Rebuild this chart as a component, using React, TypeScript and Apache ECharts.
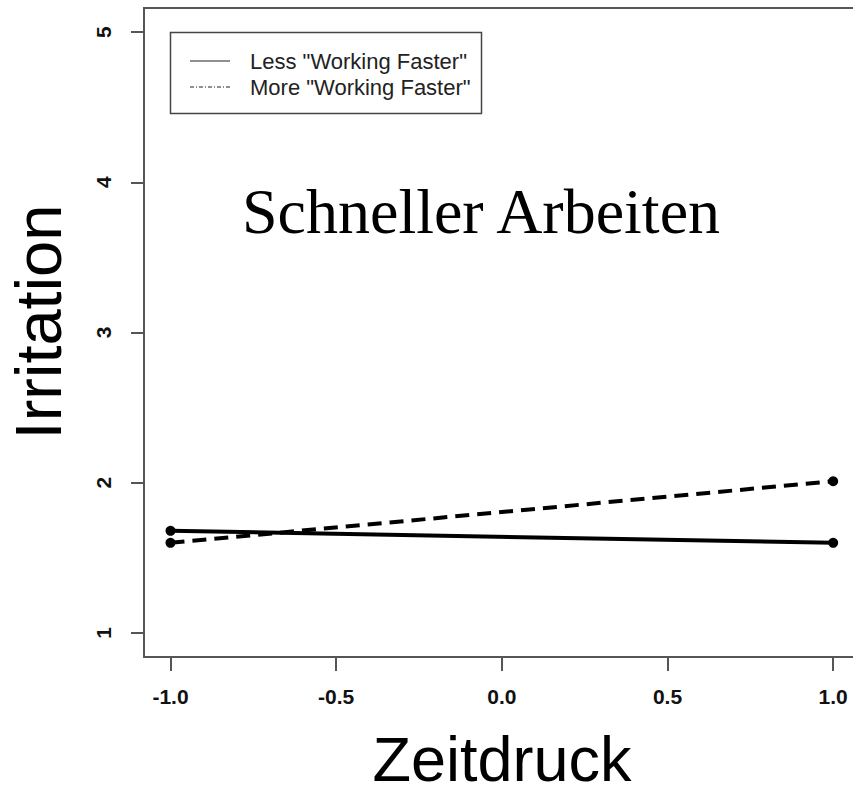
import React, { useEffect, useRef } from "react";
import * as echarts from "echarts";

const xValues = [-1, 1];
const lessValues = [1.68, 1.6];
const moreValues = [1.6, 2.01];
const xTicks = [-1, -0.5, 0, 0.5, 1];
const yTicks = [1, 2, 3, 4, 5];
const seriesNames = ['Less "Working Faster"', 'More "Working Faster"'];

export default function App() {
  const ref = useRef<HTMLDivElement>(null);
  useEffect(() => {
    if (!ref.current) return;
    const chart = echarts.init(ref.current, null, { renderer: "svg" });
    const axisColor = "#555";
    const toPairs = (vals: number[]) => xValues.map((x, i) => [x, vals[i]]);
    chart.setOption({
      animation: false,
      backgroundColor: "#fff",
      grid: {
        left: 144,
        top: 8,
        width: 709,
        height: 649,
        show: false,
      },
      xAxis: {
        type: "value",
        min: -1.08,
        max: 1.0598,
        axisLine: { show: true, onZero: false, lineStyle: { color: axisColor, width: 2 } },
        axisTick: {
          show: true,
          length: 14,
          customValues: xTicks,
          lineStyle: { color: axisColor, width: 2 },
        },
        axisLabel: {
          customValues: xTicks,
          formatter: (v: number) => v.toFixed(1),
          fontFamily: "Liberation Sans, Arial, sans-serif",
          fontWeight: "bold",
          fontSize: 21,
          color: "#111",
          margin: 29,
        },
        splitLine: { show: false },
      },
      yAxis: {
        type: "value",
        min: 0.84,
        max: 5.16,
        axisLine: { show: true, onZero: false, lineStyle: { color: axisColor, width: 2 } },
        axisTick: {
          show: true,
          length: 13,
          customValues: yTicks,
          lineStyle: { color: axisColor, width: 2 },
        },
        axisLabel: {
          customValues: yTicks,
          rotate: 90,
          fontFamily: "Liberation Sans, Arial, sans-serif",
          fontWeight: "bold",
          fontSize: 21,
          color: "#111",
          margin: 30,
        },
        splitLine: { show: false },
      },
      series: [
        {
          name: seriesNames[0],
          type: "line",
          data: toPairs(lessValues),
          symbol: "circle",
          symbolSize: 10,
          itemStyle: { color: "#000" },
          lineStyle: { color: "#000", width: 4, type: "solid" },
        },
        {
          name: seriesNames[1],
          type: "line",
          data: toPairs(moreValues),
          symbol: "circle",
          symbolSize: 10,
          itemStyle: { color: "#000" },
          lineStyle: { color: "#000", width: 4, type: [14, 8] },
        },
      ],
      graphic: [
        {
          type: "line",
          shape: { x1: 143, y1: 8, x2: 853, y2: 8 },
          style: { stroke: axisColor, lineWidth: 2 },
        },
        {
          type: "rect",
          shape: { x: 170.5, y: 32.5, width: 311, height: 81 },
          style: { fill: "#fff", stroke: "#444", lineWidth: 1.5 },
          z: 10,
        },
        {
          type: "line",
          shape: { x1: 190, y1: 61, x2: 230, y2: 61 },
          style: { stroke: "#222", lineWidth: 1.2 },
          z: 11,
        },
        {
          type: "line",
          shape: { x1: 190, y1: 87, x2: 230, y2: 87 },
          style: { stroke: "#222", lineWidth: 1.2, lineDash: [4, 2, 1, 2] },
          z: 11,
        },
        {
          type: "text",
          x: 250,
          y: 61,
          z: 11,
          style: {
            text: seriesNames[0],
            font: "22px 'Liberation Sans', Arial, sans-serif",
            fill: "#222",
            verticalAlign: "middle",
          },
        },
        {
          type: "text",
          x: 250,
          y: 87,
          z: 11,
          style: {
            text: seriesNames[1],
            font: "22px 'Liberation Sans', Arial, sans-serif",
            fill: "#222",
            verticalAlign: "middle",
          },
        },
        {
          type: "text",
          x: 481,
          y: 211,
          style: {
            text: "Schneller Arbeiten",
            font: "64px 'Liberation Serif', 'Times New Roman', serif",
            fill: "#000",
            align: "center",
            verticalAlign: "middle",
          },
        },
        {
          type: "text",
          x: 38,
          y: 322,
          rotation: Math.PI / 2,
          style: {
            text: "Irritation",
            font: "65px 'Liberation Sans', Arial, sans-serif",
            fill: "#000",
            align: "center",
            verticalAlign: "middle",
          },
        },
        {
          type: "text",
          x: 502,
          y: 759,
          style: {
            text: "Zeitdruck",
            font: "63px 'Liberation Sans', Arial, sans-serif",
            lineHeight: 54,
            fill: "#000",
            align: "center",
            verticalAlign: "middle",
          },
        },
      ],
    });
    return () => chart.dispose();
  }, []);
  return (
    <div
      ref={ref}
      style={{ position: "fixed", left: 0, top: 0, width: 853, height: 788 }}
    />
  );
}
